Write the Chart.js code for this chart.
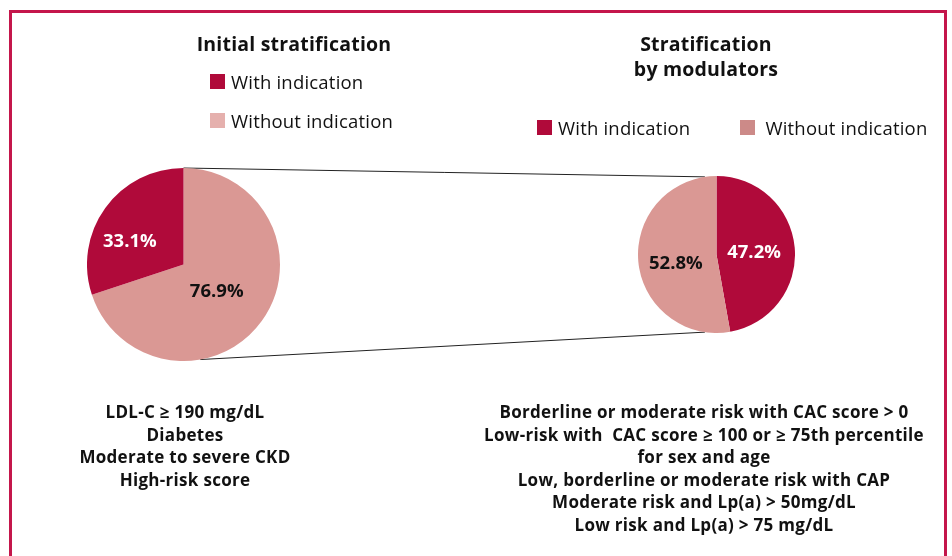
<!DOCTYPE html>
<html>
<head>
<meta charset="utf-8">
<script src="https://cdn.jsdelivr.net/npm/chart.js@4.4.1/dist/chart.umd.min.js"></script>
<style>
    body { margin: 0; background: #fff; }
    #wrap {
        position: relative; width: 952px; height: 556px; overflow: hidden;
        font-family: "Open Sans", "Noto Sans", sans-serif; color: #111;
    }
    #frame {
        position: absolute; left: 9px; top: 10px; width: 938px; height: 600px;
        border: 3px solid #C4164B; border-bottom: none; box-sizing: border-box;
    }
    .title { position: absolute; font-weight: bold; font-size: 19.5px; text-align: center; line-height: 25px; letter-spacing: 0.2px; }
    .legend { position: absolute; font-size: 18.5px; letter-spacing: 0.2px; }
    .legend .item { display: flex; align-items: center; }
    .legend .sw { width: 15px; height: 15px; margin-right: 6px; }
    .notes { position: absolute; font-weight: bold; font-size: 17px; text-align: center; line-height: 22.5px; white-space: pre; letter-spacing: 0.3px; }
    canvas.pie { position: absolute; }
    #links { position: absolute; left: 0; top: 0; pointer-events: none; }
</style>
</head>
<body>
<div id="wrap">
    <div id="frame"></div>
    <canvas id="links" width="952" height="556"></canvas>

    <div class="title" style="left:144px; top:31px; width:300px;">Initial stratification</div>
    <div class="title" style="left:556px; top:31px; width:300px;">Stratification<br>by modulators</div>

    <div class="legend" id="legendLeft" style="left:210px; top:69px;"></div>
    <div class="legend" id="legendRight" style="left:537px; top:115px;"></div>

    <div style="position:absolute; left:87px; top:168px; width:193px; height:193px;">
        <canvas class="pie" id="pieInicial"></canvas>
    </div>
    <div style="position:absolute; left:638px; top:176px; width:157px; height:157px;">
        <canvas class="pie" id="pieModuladores"></canvas>
    </div>

    <div class="notes" id="notasInicial" style="left:35px; top:401px; width:300px;"></div>
    <div class="notes" id="notasModuladores" style="left:454px; top:401px; width:500px;"></div>
</div>

<script>
// datos
const etiquetas = ['With indication', 'Without indication'];

// el gráfico original arranca con la porción clara a las 12
const etiquetasInicial = ['Without indication', 'With indication'];
const valoresInicial = [76.9, 33.1];

const etiquetasModuladores = ['With indication', 'Without indication'];
const valoresModuladores = [47.2, 52.8];

const criteriosInicial = [
    'LDL-C ≥ 190 mg/dL',
    'Diabetes',
    'Moderate to severe CKD',
    'High-risk score'
];
const criteriosModuladores = [
    'Borderline or moderate risk with CAC score > 0',
    'Low-risk with  CAC score ≥ 100 or ≥ 75th percentile',
    'for sex and age',
    'Low, borderline or moderate risk with CAP',
    'Moderate risk and Lp(a) > 50mg/dL',
    'Low risk and Lp(a) > 75 mg/dL'
];

const OSCURO = '#B00A3A';
const CLARO = '#DA9894';

function colorDe(etiqueta) {
    return etiqueta === 'With indication' ? OSCURO : CLARO;
}

// etiquetas de porcentaje sobre cada porción
const etiquetasPorcentaje = {
    id: 'etiquetasPorcentaje',
    afterDatasetsDraw(chart, args, opts) {
        const ctx = chart.ctx;
        const meta = chart.getDatasetMeta(0);
        const valores = chart.data.datasets[0].data;
        ctx.save();
        ctx.font = 'bold ' + opts.size + 'px "Open Sans", "Noto Sans", sans-serif';
        ctx.textAlign = 'center';
        ctx.textBaseline = 'middle';
        meta.data.forEach((arc, i) => {
            const medio = (arc.startAngle + arc.endAngle) / 2;
            const r = arc.outerRadius * opts.radios[i];
            const x = arc.x + Math.cos(medio) * r + (opts.dx ? opts.dx[i] : 0);
            const y = arc.y + Math.sin(medio) * r + (opts.dy ? opts.dy[i] : 0);
            ctx.fillStyle = opts.colores[i];
            ctx.fillText(valores[i].toFixed(1) + '%', x, y);
        });
        ctx.restore();
    }
};

function dibujarPie(id, labels, data, opcionesEtiquetas) {
    const ctx = document.getElementById(id).getContext('2d');
    return new Chart(ctx, {
        type: 'pie',
        data: {
            labels: labels,
            datasets: [{
                data: data,
                backgroundColor: labels.map(colorDe),
                borderWidth: 0
            }]
        },
        options: {
            responsive: true,
            maintainAspectRatio: false,
            animation: false,
            events: [],
            plugins: {
                legend: { display: false },
                tooltip: { enabled: false },
                etiquetasPorcentaje: opcionesEtiquetas
            }
        },
        plugins: [etiquetasPorcentaje]
    });
}

const graficoInicial = dibujarPie('pieInicial', etiquetasInicial, valoresInicial, {
    size: 18.5, radios: [0.45, 0.66], colores: ['#111', '#fff'], dx: [-2, -2], dy: [2, 15]
});
const graficoModuladores = dibujarPie('pieModuladores', etiquetasModuladores, valoresModuladores, {
    size: 18.5, radios: [0.48, 0.52], colores: ['#fff', '#111'], dy: [2, 6]
});

// leyendas
function armarLeyenda(id, colores, horizontal) {
    const cont = document.getElementById(id);
    if (horizontal) cont.style.display = 'flex';
    etiquetas.forEach((t, i) => {
        const item = document.createElement('div');
        item.className = 'item';
        const sw = document.createElement('span');
        sw.className = 'sw';
        sw.style.background = colores[i];
        if (horizontal) {
            item.style.marginRight = i === 0 ? '50px' : '0';
            if (i === 1) sw.style.marginRight = '10px';
        } else {
            item.style.marginBottom = i === 0 ? '14px' : '0';
        }
        item.appendChild(sw);
        item.appendChild(document.createTextNode(t));
        cont.appendChild(item);
    });
}
armarLeyenda('legendLeft', [OSCURO, '#E5B0AD'], false);
armarLeyenda('legendRight', [OSCURO, '#CC8A88'], true);

// criterios debajo de cada pie
document.getElementById('notasInicial').textContent = criteriosInicial.join('\n');
document.getElementById('notasModuladores').textContent = criteriosModuladores.join('\n');

// líneas que unen los dos pies
function puntoBorde(chart, grados) {
    const caja = chart.canvas.parentNode;
    const arc = chart.getDatasetMeta(0).data[0];
    const a = (grados - 90) * Math.PI / 180;
    return {
        x: caja.offsetLeft + arc.x + Math.cos(a) * arc.outerRadius,
        y: caja.offsetTop + arc.y + Math.sin(a) * arc.outerRadius
    };
}

function dibujarUniones() {
    const ctx = document.getElementById('links').getContext('2d');
    ctx.strokeStyle = '#222';
    ctx.lineWidth = 1;
    const pares = [[0, -8.5], [170, 188.5]];
    pares.forEach(([g1, g2]) => {
        const p1 = puntoBorde(graficoInicial, g1);
        const p2 = puntoBorde(graficoModuladores, g2);
        ctx.beginPath();
        ctx.moveTo(p1.x, p1.y);
        ctx.lineTo(p2.x, p2.y);
        ctx.stroke();
    });
}
dibujarUniones();
</script>
</body>
</html>
